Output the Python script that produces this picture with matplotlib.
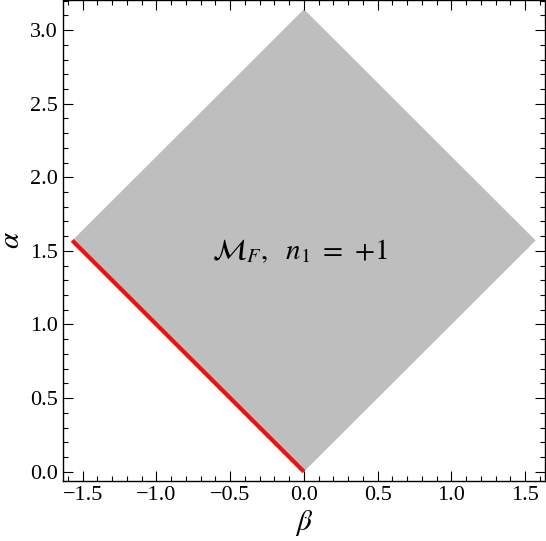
import numpy as np
import matplotlib
matplotlib.use("Agg")
import matplotlib.pyplot as plt
from matplotlib.ticker import MultipleLocator

plt.rcParams['font.family'] = ['Liberation Serif', 'DejaVu Serif']
plt.rcParams['mathtext.fontset'] = 'stix'

# region M_F: diamond in the (beta, alpha) plane
region_beta = [0.0, np.pi / 2, 0.0, -np.pi / 2]
region_alpha = [0.0, np.pi / 2, np.pi, np.pi / 2]
# red boundary edge
edge_beta = [-np.pi / 2, 0.0]
edge_alpha = [np.pi / 2, 0.0]
label_pos = (-0.03, 1.5)
label_text = r'$\mathcal{M}_F,\ \ n_1\ =\ {+}1$'

pad = 0.02 * np.pi

fig = plt.figure(figsize=(5.46, 5.41), dpi=100)
ax = fig.add_axes([0.1154, 0.111, 0.8826, 0.889])

ax.fill(region_beta, region_alpha, color='#bebebe', lw=0)
ax.plot(edge_beta, edge_alpha, color='#ee1111', lw=3.0, solid_capstyle='butt')
ax.text(label_pos[0], label_pos[1], label_text, fontsize=21,
        ha='center', va='center')

ax.set_xlim(-np.pi / 2 - pad, np.pi / 2 + pad)
ax.set_ylim(-pad, np.pi + pad)
ax.xaxis.set_major_locator(MultipleLocator(0.5))
ax.xaxis.set_minor_locator(MultipleLocator(0.1))
ax.yaxis.set_major_locator(MultipleLocator(0.5))
ax.yaxis.set_minor_locator(MultipleLocator(0.1))
ax.xaxis.set_major_formatter(lambda v, p: f'{v:.1f}'.replace('-', '\u2212'))
ax.yaxis.set_major_formatter(lambda v, p: f'{v:.1f}')
ax.tick_params(which='both', direction='in', top=True, right=True,
               labelsize=16, width=0.8)
ax.tick_params(which='major', length=7)
ax.tick_params(which='minor', length=3.5)
for s in ax.spines.values():
    s.set_linewidth(1.0)

ax.set_xlabel(r'$\beta$', fontsize=21, labelpad=2)
ax.set_ylabel(r'$\alpha$', fontsize=21, labelpad=4)

fig.savefig('out.png', dpi=100)
